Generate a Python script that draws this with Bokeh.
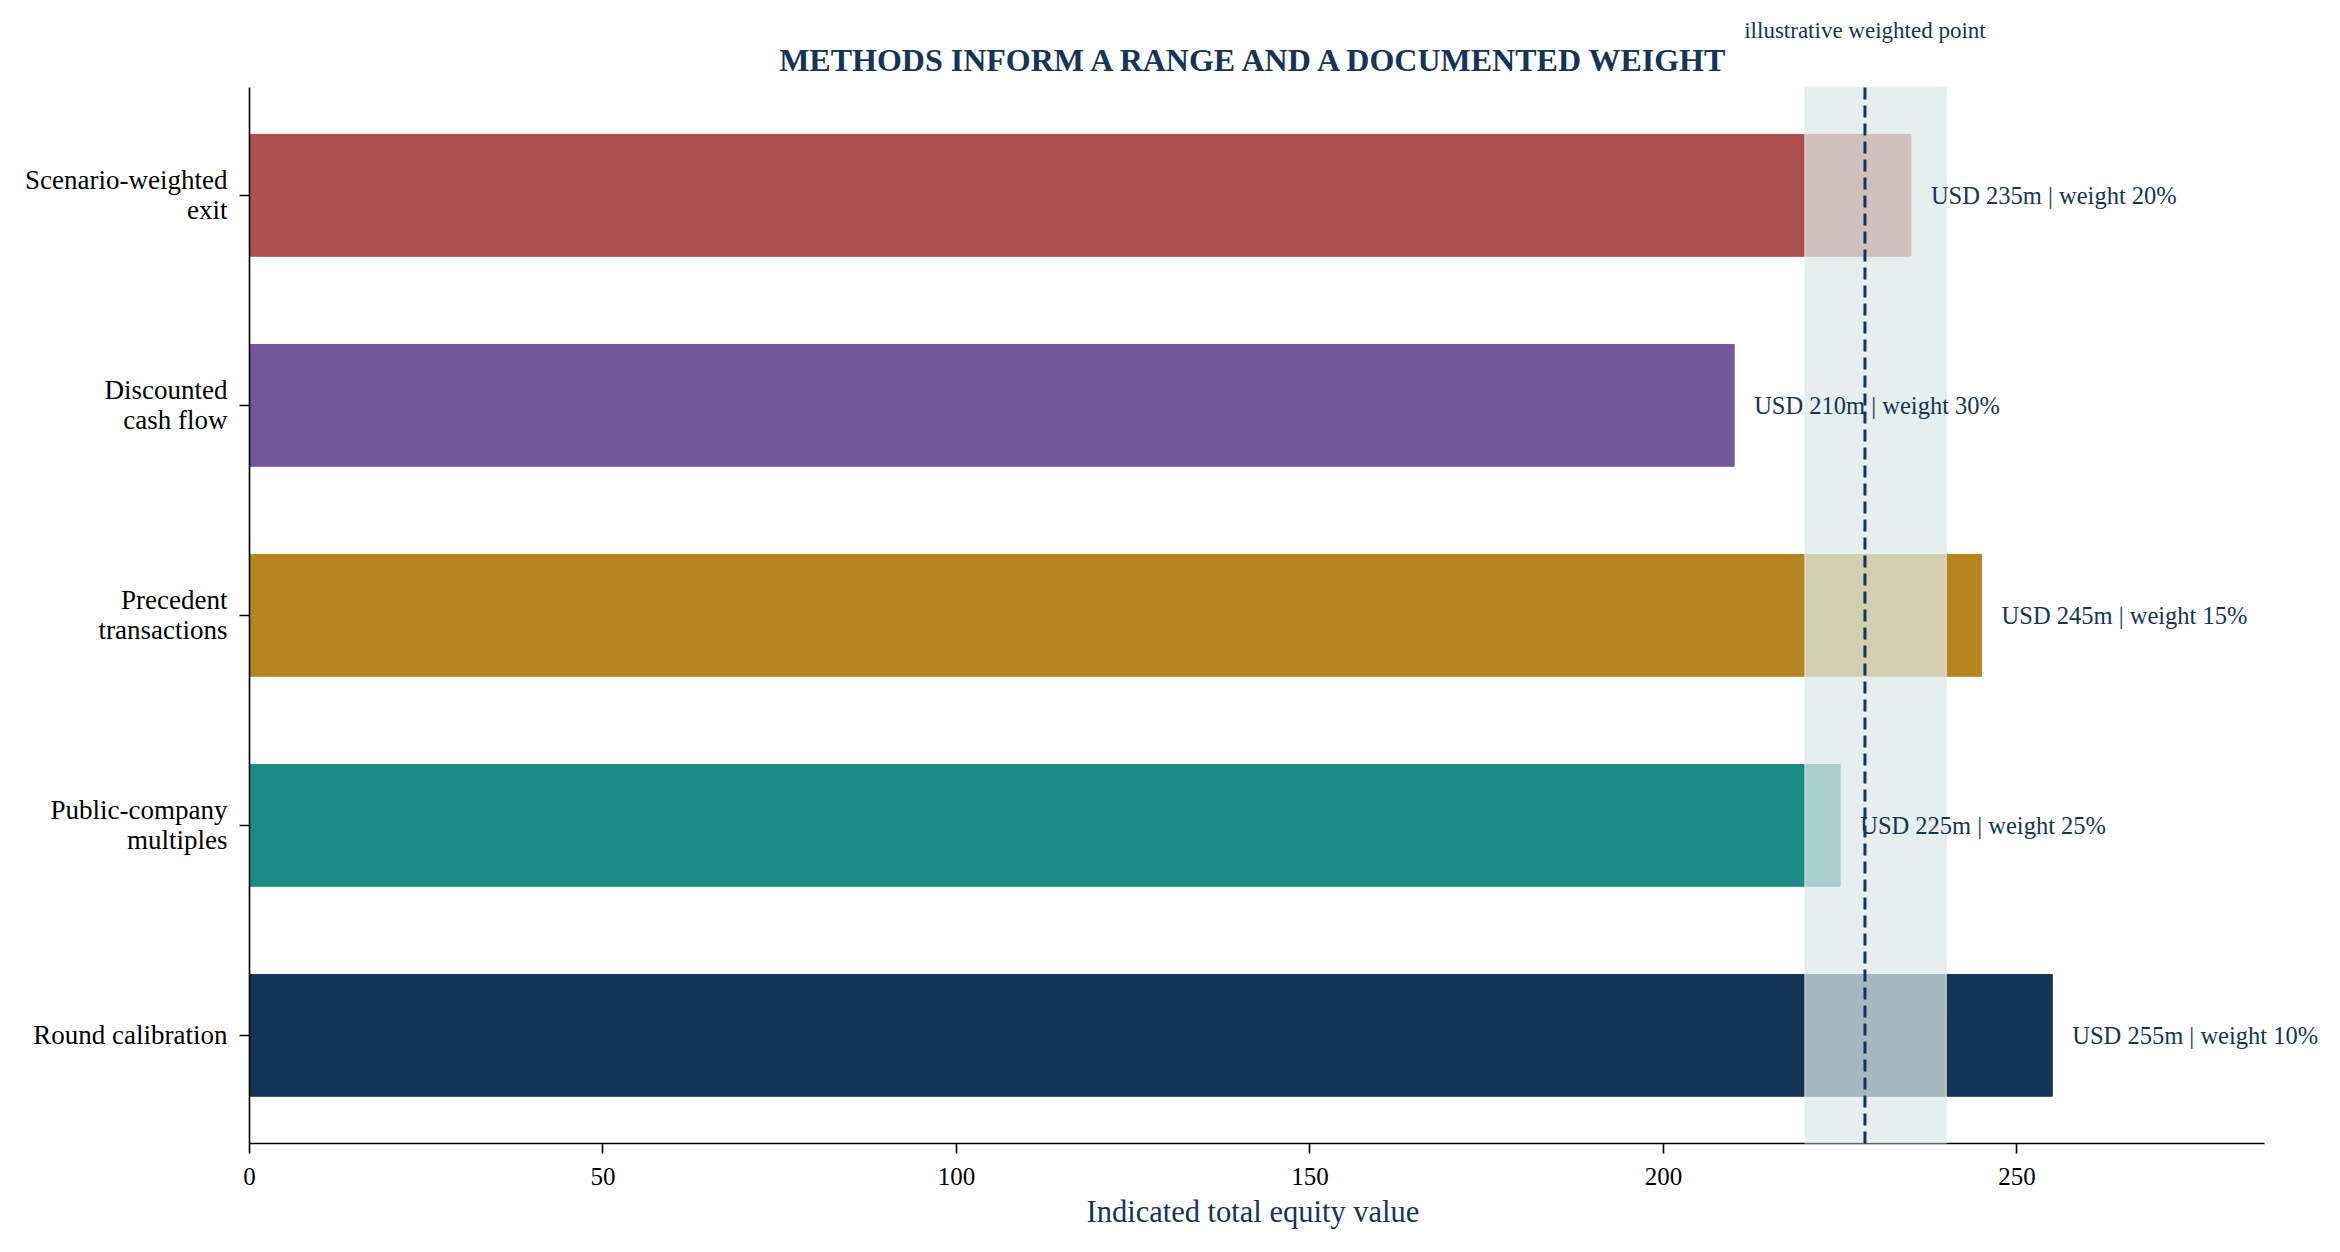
from bokeh.plotting import figure
from bokeh.models import (ColumnDataSource, Range1d, FixedTicker, Label, LabelSet,
                          BoxAnnotation, Title)
from bokeh.embed import file_html
from bokeh.resources import INLINE

# Data (top to bottom as shown)
methods = ["Scenario-weighted\nexit", "Discounted\ncash flow", "Precedent\ntransactions",
           "Public-company\nmultiples", "Round calibration"]
values = [235, 210, 245, 225, 255]
weights = [20, 30, 15, 25, 10]
colors = ["#ad4f4f", "#71589b", "#b78520", "#1b8a84", "#143456"]
range_low, range_high = 220, 240
x_ticks = [0, 50, 100, 150, 200, 250]

weighted_point = sum(v * w for v, w in zip(values, weights)) / sum(weights)

NAVY = "#15345a"
FONT = "Liberation Serif"

ypos = [len(methods) - 1 - i for i in range(len(methods))]
labels = ["USD %dm | weight %d%%" % (v, w) for v, w in zip(values, weights)]

source = ColumnDataSource(data=dict(y=ypos, value=values, color=colors, label=labels))

# axes span x 0..285 and y -0.515..4.515; ranges are extended so texts around fit
X_MAX, Y_LO, Y_HI = 285, -0.515, 4.515

p = figure(width=2324, height=1236, output_backend="svg", toolbar_location=None,
           x_range=Range1d(0, 293.5), y_range=Range1d(Y_LO, 4.928),
           min_border_left=249, min_border_right=0, min_border_top=0, min_border_bottom=93)

# Bars
p.hbar(y="y", left=0, right="value", height=0.58, color="color", source=source)

# Range band and weighted point
band = BoxAnnotation(left=range_low, right=range_high, bottom=Y_LO, top=Y_HI,
                     fill_color="#dbe9e6", fill_alpha=0.73,
                     line_color="#e3eeec", line_alpha=0.6, line_width=1.5)
p.add_layout(band)
wline = p.segment(x0=[weighted_point], y0=[Y_LO], x1=[weighted_point], y1=[Y_HI],
                  line_color=NAVY, line_width=3, line_dash="12 6")
wline.level = "overlay"

# Value labels
vlabels = LabelSet(x="value", y="y", text="label", source=source, x_offset=20,
                   text_baseline="middle", text_font=FONT, text_font_size="24.5px",
                   text_color=NAVY, level="overlay")
p.add_layout(vlabels)

# Title and annotation above the plot
p.add_layout(Label(x=X_MAX / 2, y=4.644, text="METHODS INFORM A RANGE AND A DOCUMENTED WEIGHT",
                   text_align="center", text_baseline="middle", text_font=FONT,
                   text_font_size="32px", text_font_style="bold", text_color=NAVY))
p.add_layout(Label(x=weighted_point, y=4.786, text="illustrative weighted point",
                   text_align="center", text_baseline="middle", text_font=FONT,
                   text_font_size="23px", text_color=NAVY))

# x axis label, centred under the 0..285 axis rather than the whole frame
p.add_layout(Title(text="Indicated total equity value", align="left", offset=837,
                   text_font=FONT, text_font_size="30.5px", text_font_style="normal",
                   text_color=NAVY, standoff=11), "below")

# Axes
p.xaxis.ticker = FixedTicker(ticks=x_ticks)
p.yaxis.ticker = FixedTicker(ticks=ypos)
p.xaxis.bounds = (0, X_MAX)
p.yaxis.bounds = (Y_LO, Y_HI)
p.yaxis.major_label_overrides = {y: m for y, m in zip(ypos, methods)}
p.xaxis.major_label_text_font_size = "25px"
p.xaxis.major_label_standoff = 14
p.yaxis.major_label_text_font_size = "27px"
p.yaxis.major_label_text_line_height = 1.0
p.yaxis.major_label_standoff = 12
for ax in (p.xaxis, p.yaxis):
    ax.major_label_text_font = FONT
    ax.major_label_text_color = "black"
    ax.axis_line_color = "black"
    ax.axis_line_width = 1.6
    ax.major_tick_line_color = "black"
    ax.major_tick_line_width = 1.6
    ax.major_tick_out = 10
    ax.major_tick_in = 0
    ax.minor_tick_line_color = None

p.grid.grid_line_color = None
p.outline_line_color = None
p.background_fill_color = "white"
p.border_fill_color = "white"

open("out.html", "w").write(file_html(p, INLINE))
